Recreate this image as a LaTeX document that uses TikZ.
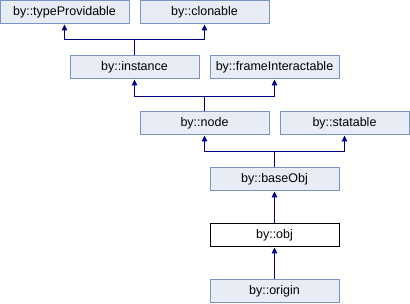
\documentclass[tikz,border=0pt]{standalone}
\usepackage{fontspec}
\setmainfont{Liberation Sans}
\usetikzlibrary{arrows.meta}
\definecolor{boxfill}{RGB}{232,236,245}
\definecolor{boxdraw}{RGB}{122,148,200}
\definecolor{linecol}{RGB}{0,0,128}
\tikzset{
  cls/.style={draw=boxdraw, fill=boxfill, line width=1pt, minimum width=129pt, minimum height=23pt, inner sep=0pt, font=\fontsize{12.5}{14}\selectfont},
  cur/.style={cls, draw=black, fill=white},
  arr/.style={draw=linecol, line width=1pt, -{Triangle[length=6pt,width=5.5pt]}}
}
\begin{document}
\begin{tikzpicture}[x=1pt,y=-1pt]
\useasboundingbox (0,0) rectangle (410,304);
\node[cls] (tp) at (64.5,12.5) {by::typeProvidable};
\node[cls] (cl) at (204.5,12.5) {by::clonable};
\node[cls] (in) at (134.5,67.5) {by::instance};
\node[cls] (fi) at (274.5,67.5) {by::frameInteractable};
\node[cls] (nd) at (204.5,123.5) {by::node};
\node[cls] (st) at (344.5,123.5) {by::statable};
\node[cls] (bo) at (274.5,179.5) {by::baseObj};
\node[cur] (ob) at (274.5,235.5) {by::obj};
\node[cls] (or) at (274.5,291.5) {by::origin};
\coordinate (b1) at (0,40);
\coordinate (b2) at (0,97);
\coordinate (b3) at (0,152);
\draw[arr] (in.north) -- (in.north |- b1) -| (tp.south);
\draw[arr] (in.north) -- (in.north |- b1) -| (cl.south);
\draw[arr] (nd.north) -- (nd.north |- b2) -| (in.south);
\draw[arr] (nd.north) -- (nd.north |- b2) -| (fi.south);
\draw[arr] (bo.north) -- (bo.north |- b3) -| (nd.south);
\draw[arr] (bo.north) -- (bo.north |- b3) -| (st.south);
\draw[arr] (ob.north) -- (bo.south);
\draw[arr] (or.north) -- (ob.south);
\end{tikzpicture}
\end{document}
